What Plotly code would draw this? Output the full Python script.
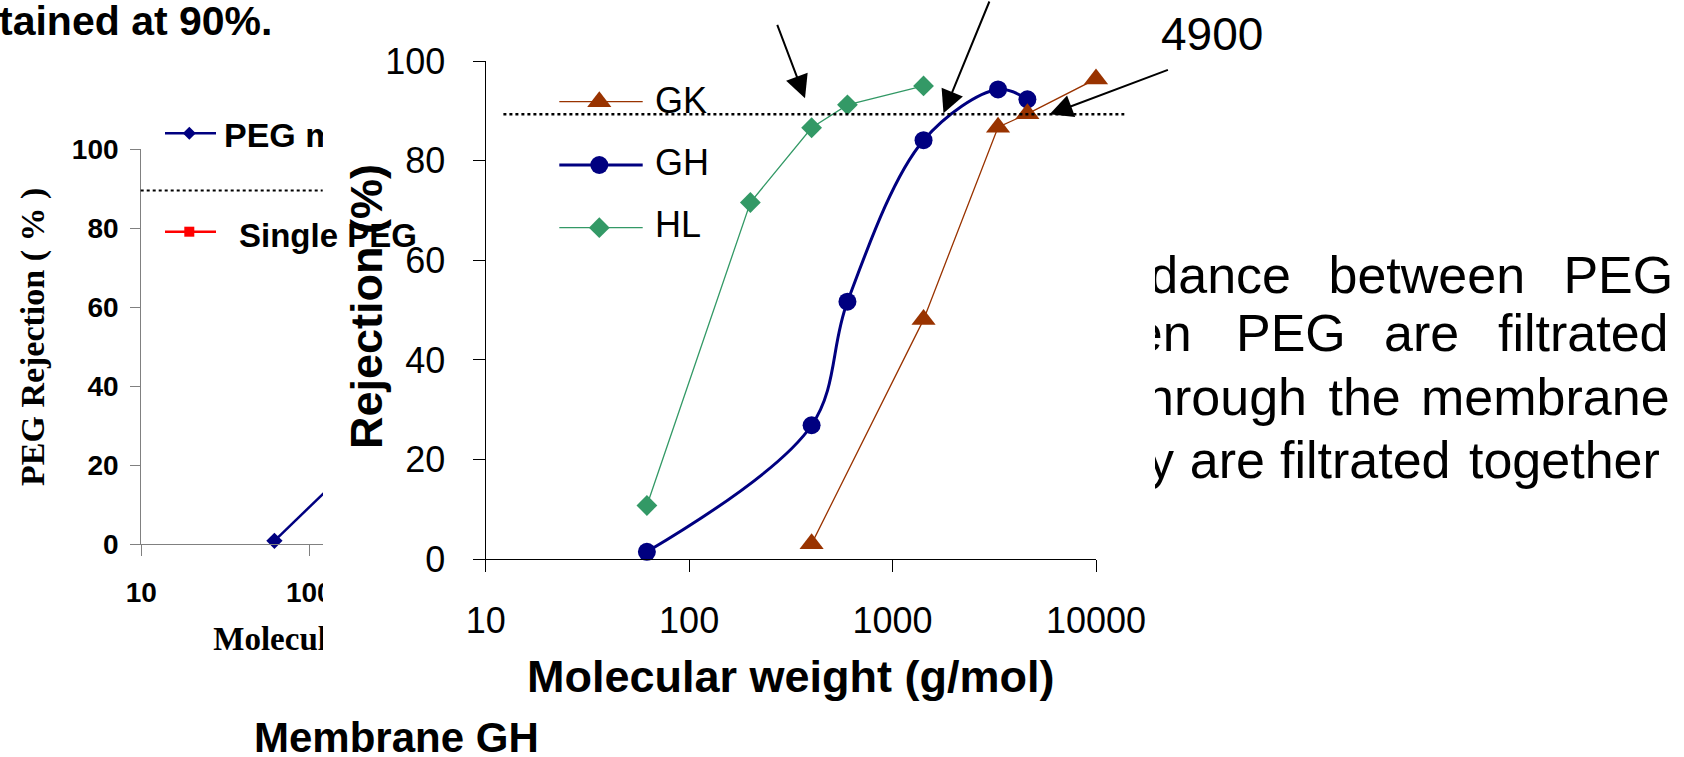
import plotly.graph_objects as go

W, H = 1684, 757

# ---------------- data: main chart (rejection vs molecular weight) ----------------
gk_mw = [400, 1420, 3300, 4600, 10000]
gk_rej = [3.1, 48.1, 86.7, 89.4, 96.4]
gh_mw = [62, 400, 600, 1420, 3300, 4600]
gh_rej = [1.5, 26.9, 51.7, 84.1, 94.3, 92.3]
hl_mw = [62, 200, 400, 600, 1420]
hl_rej = [10.8, 71.6, 86.6, 91.2, 95.0]
series_names = ["GK", "GH", "HL"]
main_xticks = [10, 100, 1000, 10000]
main_xticklabels = ["10", "100", "1000", "10000"]
main_yticks = [0, 20, 40, 60, 80, 100]
main_target = 89.3

# ---------------- data: left (partly hidden) chart ----------------
mix_mw = [62, 200]
mix_rej = [0.8, 21.7]
left_xticks = [10, 100, 1000, 10000]
left_xticklabels = ["10", "100", "1000", "10000"]
left_yticks = [0, 20, 40, 60, 80, 100]
left_target = 89.5
left_legend = ["PEG mixture", "Single PEG"]

# ---------------- page text ----------------
para_words = ["dance", "between", "PEG",
              "en", "PEG", "are", "filtrated",
              "hrough", "the", "membrane",
              "y", "are", "filtrated", "together"]
# layout of paragraph words (pixel x, anchor side, baseline)
para_x = [1291, 1328.5, 1563.4,
          1191.7, 1236, 1384, 1498,
          1307, 1328.5, 1421,
          1174, 1189.8, 1280, 1469]
para_pos = ["middle left", "middle right", "middle right",
            "middle left", "middle right", "middle right", "middle right",
            "middle left", "middle right", "middle right",
            "middle left", "middle right", "middle right", "middle right"]
para_base = [293] * 3 + [351] * 4 + [415] * 3 + [478.3] * 4

SANS = "Liberation Sans, Arial, sans-serif"
SERIF = "Liberation Serif, Times New Roman, serif"
C_GK, C_GH, C_HL = "#993300", "#000080", "#339966"


def fx(p):
    return p / W


def fy(p):
    return 1 - p / H


fig = go.Figure()

# ---- subplot A: left chart (x, y)
fig.add_trace(go.Scatter(
    x=mix_mw, y=mix_rej, xaxis="x", yaxis="y", mode="lines+markers",
    line=dict(color=C_GH, width=2.5),
    marker=dict(symbol="diamond", size=12.5, color=C_GH),
    cliponaxis=False, showlegend=False, hoverinfo="skip"))

# ---- subplot B: pixel underlay with clipped texts, then white cover (x2, y2)
fig.add_trace(go.Scatter(
    x=[224], y=[146.7 - 0.25 * 34], xaxis="x2", yaxis="y2", mode="text",
    text=[left_legend[0]], textposition="middle right",
    textfont=dict(family=SANS, size=34, color="black", weight="bold"),
    showlegend=False, hoverinfo="skip"))
fig.add_trace(go.Scatter(
    x=[213.3], y=[650 - 0.25 * 33], xaxis="x2", yaxis="y2", mode="text",
    text=["Molecular weight (g/mol)"], textposition="middle right",
    textfont=dict(family=SERIF, size=33, color="black", weight="bold"),
    showlegend=False, hoverinfo="skip"))
fig.add_trace(go.Scatter(
    x=para_x, y=[b - 0.25 * 52 for b in para_base], xaxis="x2", yaxis="y2",
    mode="text", text=para_words, textposition=para_pos,
    textfont=dict(family=SANS, size=52, color="black"),
    showlegend=False, hoverinfo="skip"))
fig.add_trace(go.Scatter(
    x=[323, 1155, 1155, 323, 323], y=[-5, -5, 705, 705, -5], xaxis="x2", yaxis="y2",
    mode="lines", fill="toself", fillcolor="white", line=dict(width=0, color="white"),
    showlegend=False, hoverinfo="skip"))

# ---- subplot C: main chart (x3, y3)
fig.add_trace(go.Scatter(
    x=hl_mw, y=hl_rej, xaxis="x3", yaxis="y3", mode="lines+markers", name=series_names[2],
    line=dict(color=C_HL, width=1.3), marker=dict(symbol="diamond", size=16, color=C_HL),
    cliponaxis=False, showlegend=False, hoverinfo="skip"))
fig.add_trace(go.Scatter(
    x=gh_mw, y=gh_rej, xaxis="x3", yaxis="y3", mode="lines+markers", name=series_names[1],
    line=dict(color=C_GH, width=3, shape="spline", smoothing=1),
    marker=dict(symbol="circle", size=18, color=C_GH),
    cliponaxis=False, showlegend=False, hoverinfo="skip"))
fig.add_trace(go.Scatter(
    x=gk_mw, y=gk_rej, xaxis="x3", yaxis="y3", mode="lines+markers", name=series_names[0],
    line=dict(color=C_GK, width=1.3), marker=dict(symbol="triangle-up", size=21, color=C_GK),
    cliponaxis=False, showlegend=False, hoverinfo="skip"))

# ---- subplot D: pixel overlay with legend swatches (x4, y4)
sw_specs = [
    (559.3, 642.7, 101.7, 599.3, C_GK, 1.3, "triangle-up", 21),
    (559.3, 642.7, 165.0, 599.3, C_GH, 3.0, "circle", 18),
    (559.3, 642.7, 227.7, 599.3, C_HL, 1.3, "diamond", 16),
    (165.0, 216.0, 133.3, 189.3, C_GH, 2.5, "diamond", 10),
    (165.0, 216.0, 231.7, 189.3, "#ff0000", 2.5, "square", 10),
]
for x0, x1, yy, xm, col, lw, sym, ms in sw_specs:
    fig.add_trace(go.Scatter(
        x=[x0, x1], y=[yy, yy], xaxis="x4", yaxis="y4", mode="lines",
        line=dict(color=col, width=lw), showlegend=False, hoverinfo="skip"))
    fig.add_trace(go.Scatter(
        x=[xm], y=[yy], xaxis="x4", yaxis="y4", mode="markers",
        marker=dict(symbol=sym, size=ms, color=col), cliponaxis=False,
        showlegend=False, hoverinfo="skip"))

hidden = dict(visible=False, showgrid=False, zeroline=False, fixedrange=True, automargin=False)
grey = "#808080"

fig.update_layout(
    template="none",
    width=W, height=H, autosize=False,
    margin=dict(l=0, r=0, t=0, b=0, pad=0, autoexpand=False),
    paper_bgcolor="white", plot_bgcolor="rgba(0,0,0,0)",
    showlegend=False,
    xaxis=dict(type="log", range=[1, 4], domain=[fx(141.3), fx(645.3)], anchor="y",
               showline=True, linecolor=grey, linewidth=1.3, ticks="outside", ticklen=11,
               tickcolor=grey, tickwidth=1.3, tickvals=left_xticks, ticktext=left_xticklabels,
               tickfont=dict(family=SANS, size=28, color="black", weight="bold"),
               ticklabelstandoff=12,
               showgrid=False, zeroline=False, automargin=False),
    yaxis=dict(range=[0, 100], domain=[fy(544), fy(149)], anchor="x",
               showline=True, linecolor=grey, linewidth=1.3, ticks="outside", ticklen=10,
               tickcolor=grey, tickwidth=1.3, tickvals=left_yticks,
               tickfont=dict(family=SANS, size=28, color="black", weight="bold"),
               ticklabelstandoff=6,
               showgrid=False, zeroline=False, automargin=False),
    xaxis2=dict(range=[0, W], domain=[0, 1], anchor="y2", **hidden),
    yaxis2=dict(range=[H, 0], domain=[0, 1], anchor="x2", **hidden),
    xaxis3=dict(type="log", range=[1, 4], domain=[fx(485.7), fx(1096)], anchor="y3",
                showline=True, linecolor="black", linewidth=1.3, ticks="outside", ticklen=12,
                tickcolor="black", tickwidth=1.3, tickvals=main_xticks, ticktext=main_xticklabels,
                tickfont=dict(family=SANS, size=36, color="black"),
                ticklabelstandoff=17,
                showgrid=False, zeroline=False, automargin=False),
    yaxis3=dict(range=[0, 100], domain=[fy(559.3), fy(61)], anchor="x3",
                showline=True, linecolor="black", linewidth=1.3, ticks="outside", ticklen=12,
                tickcolor="black", tickwidth=1.3, tickvals=main_yticks,
                tickfont=dict(family=SANS, size=36, color="black"),
                ticklabelstandoff=20,
                showgrid=False, zeroline=False, automargin=False),
    xaxis4=dict(range=[0, W], domain=[0, 1], anchor="y4", **hidden),
    yaxis4=dict(range=[H, 0], domain=[0, 1], anchor="x4", **hidden),
)

# dotted 90 % reference lines
fig.add_shape(type="line", xref="paper", yref="y3", x0=fx(503.4), x1=fx(1124.3),
              y0=main_target, y1=main_target, line=dict(color="black", width=2.5, dash="dot"),
              layer="above")
fig.add_shape(type="line", xref="paper", yref="y", x0=fx(140.7), x1=fx(322.7),
              y0=left_target, y1=left_target, line=dict(color="black", width=1.8, dash="dot"),
              layer="above")


def ann(text, x, y, size, xanchor="left", family=SANS, bold=False, angle=0):
    fig.add_annotation(text=text, x=fx(x), y=fy(y), xref="paper", yref="paper",
                       xanchor=xanchor, yanchor="middle", showarrow=False, textangle=angle,
                       font=dict(family=family, size=size, color="black",
                                 weight="bold" if bold else "normal"))


# legend labels (main)
ann(series_names[0], 652.7, 113.3 - 0.3465 * 36, 36)
ann(series_names[1], 652.7, 175.0 - 0.3465 * 36, 36)
ann(series_names[2], 652.7, 236.7 - 0.3465 * 36, 36)
# axis titles (main)
ann("Molecular weight (g/mol)", 790.9, 691.7 - 0.3465 * 45, 45, xanchor="center", bold=True)
ann("Rejection (%)", 366.5, 306.5, 45, xanchor="center", bold=True, angle=-90)
ann("4900", 1159, 50 - 0.3465 * 46, 46)
# left chart texts
ann(left_legend[1], 236.7, 246.7 - 0.3465 * 33, 33, bold=True)
ann("PEG Rejection ( % )", 32.5, 337.5, 34, xanchor="center", family=SERIF, bold=True, angle=-90)
ann("tained at 90%.", -3, 35 - 0.3465 * 41, 41, bold=True)
ann("Membrane GH", 252, 752 - 0.3465 * 42, 42, bold=True)

# arrows pointing at the 90 % intersections
arrows = [((805.0, 98.3), (776.7, 23.3)),
          ((943.5, 113.3), (990.0, -2.0)),
          ((1049.6, 114.3), (1169.4, 69.3))]
for (tx, ty), (sx, sy) in arrows:
    fig.add_annotation(x=fx(tx), y=fy(ty), xref="paper", yref="paper", text="",
                       showarrow=True, ax=sx - tx, ay=sy - ty, axref="pixel", ayref="pixel",
                       arrowhead=2, arrowsize=2.3, arrowwidth=2, arrowcolor="black", standoff=0)

fig.write_html("out.html", config={"displayModeBar": False},
               post_script="document.body.style.margin='0';")
